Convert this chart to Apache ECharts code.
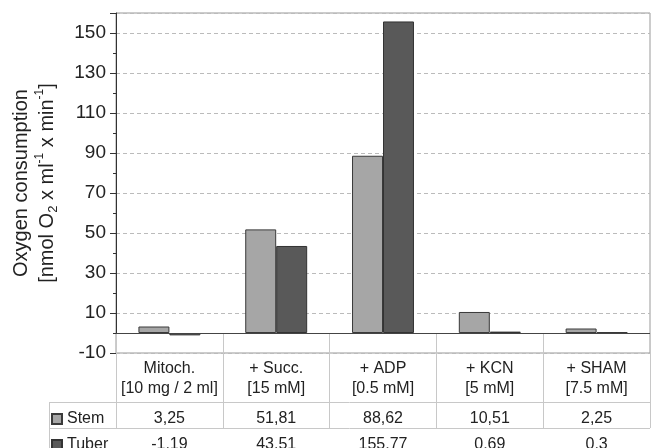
<!DOCTYPE html>
<html>
<head>
<meta charset="utf-8">
<script src="https://cdn.jsdelivr.net/npm/echarts@6/dist/echarts.min.js"></script>
<style>
  html, body { margin: 0; padding: 0; background: #fff; }
  #chart { width: 653px; height: 448px; }
</style>
</head>
<body>
<div id="chart"></div>
<script>
const categories = ['Mitoch.', '+ Succ.', '+ ADP', '+ KCN', '+ SHAM']
const conditions = ['[10 mg / 2 ml]', '[15 mM]', '[0.5 mM]', '[5 mM]', '[7.5 mM]']
const stem = [3.25, 51.81, 88.62, 10.51, 2.25]
const tuber = [-1.19, 43.51, 155.77, 0.69, 0.3]
const yMin = -10
const yMax = 160
const yStep = 20

const font = '"Liberation Sans", Arial, sans-serif'
const comma = v => String(v).replace('.', ',')
const tableLine = { stroke: '#c8c8c8', lineWidth: 1 }

const chart = echarts.init(document.getElementById('chart'))

chart.setOption({
  animation: false,
  textStyle: { fontFamily: font, color: '#222' },
  grid: {
    left: 116, right: 3, top: 13, bottom: 95,
    outerBoundsMode: 'none',
    containLabel: false,
    show: true, borderColor: '#999', borderWidth: 1
  },
  legend: {
    data: ['Stem', 'Tuber'],
    orient: 'vertical',
    left: 51, top: 411, height: 80,
    padding: 0,
    itemWidth: 10, itemHeight: 10, itemGap: 10,
    icon: 'rect',
    textStyle: { fontFamily: font, fontSize: 16, color: '#222' }
  },
  xAxis: [
    {
      type: 'category',
      data: categories.map((c, i) => c + '\n' + conditions[i]),
      axisLine: { lineStyle: { color: '#333' } },
      axisTick: { show: true, length: 95, lineStyle: { color: '#c8c8c8' } },
      axisLabel: {
        margin: 6, fontSize: 16, lineHeight: 20, color: '#222', fontFamily: font,
        interval: 0
      }
    },
    {
      type: 'category',
      data: stem.map(comma),
      position: 'bottom', offset: 66,
      axisLine: { show: false }, axisTick: { show: false },
      axisLabel: { margin: 0, verticalAlign: 'middle', fontSize: 16, color: '#222', fontFamily: font, interval: 0 }
    },
    {
      type: 'category',
      data: tuber.map(comma),
      position: 'bottom', offset: 92,
      axisLine: { show: false }, axisTick: { show: false },
      axisLabel: { margin: 0, verticalAlign: 'middle', fontSize: 16, color: '#222', fontFamily: font, interval: 0 }
    }
  ],
  yAxis: {
    type: 'value',
    min: yMin, max: yMax, interval: yStep,
    name: '{a|Oxygen consumption}\n{a|[nmol O}{sub|2}{a| x ml}{sup|-1}{a| x min}{sup|-1}{a|]}',
    nameLocation: 'middle',
    nameGap: 56,
    nameMoveOverlap: false,
    nameTextStyle: {
      rich: {
        a: { fontSize: 20, lineHeight: 26, color: '#222', fontFamily: font },
        sub: { fontSize: 13, lineHeight: 18, verticalAlign: 'bottom', color: '#222', fontFamily: font },
        sup: { fontSize: 12, lineHeight: 18, verticalAlign: 'top', color: '#222', fontFamily: font }
      }
    },
    axisLine: { show: true, lineStyle: { color: '#333' } },
    axisTick: { show: true, length: 6, lineStyle: { color: '#333' } },
    minorTick: { show: true, splitNumber: 2, length: 3, lineStyle: { color: '#333' } },
    axisLabel: { fontSize: 19, margin: 10, color: '#222', fontFamily: font, showMaxLabel: false },
    splitLine: { show: true, lineStyle: { color: '#bbb', type: [4, 3] } }
  },
  graphic: [
    { type: 'line', shape: { x1: 49, y1: 402.5, x2: 650, y2: 402.5 }, style: tableLine },
    { type: 'line', shape: { x1: 49, y1: 428.5, x2: 650, y2: 428.5 }, style: tableLine },
    { type: 'line', shape: { x1: 49.5, y1: 402, x2: 49.5, y2: 448 }, style: tableLine }
  ],
  series: [
    {
      name: 'Stem',
      type: 'bar',
      data: stem,
      barGap: 0,
      barCategoryGap: '42%',
      itemStyle: { color: '#a6a6a6', borderColor: '#3a3a3a', borderWidth: 1 },
      markLine: {
        silent: true,
        symbol: 'none',
        label: { show: false },
        lineStyle: { color: '#444', type: 'solid', width: 1 },
        data: [{ yAxis: 0 }]
      }
    },
    {
      name: 'Tuber',
      type: 'bar',
      data: tuber,
      itemStyle: { color: '#595959', borderColor: '#333', borderWidth: 1 }
    }
  ]
})
</script>
</body>
</html>
